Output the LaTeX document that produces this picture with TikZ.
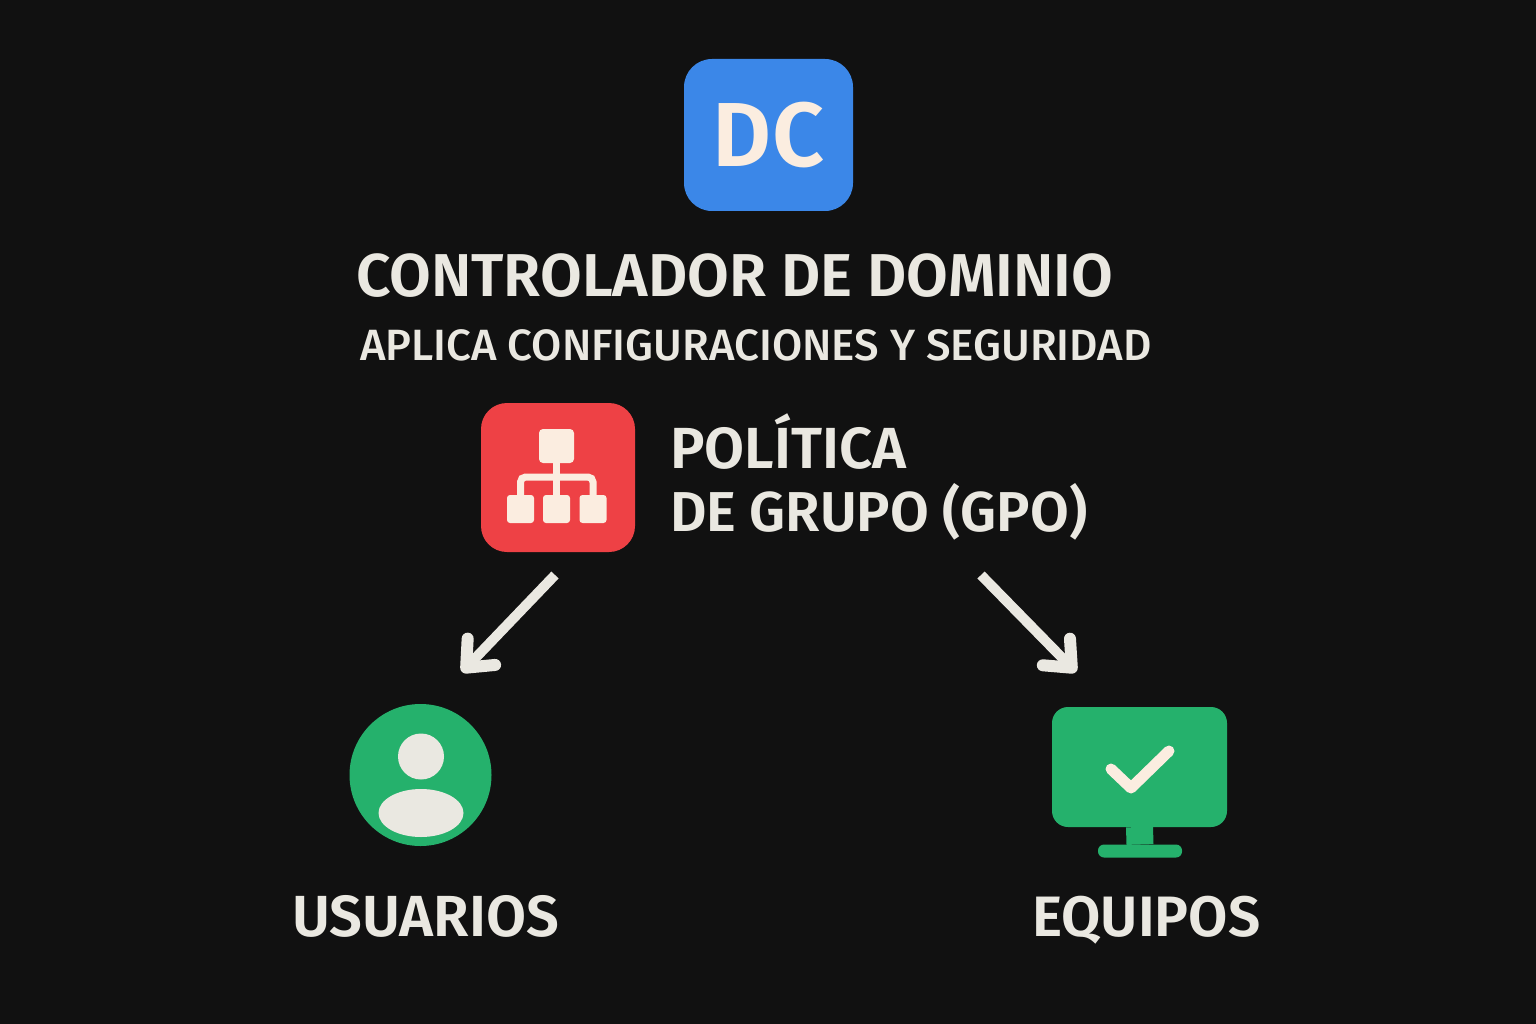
\documentclass[tikz,border=0pt]{standalone}
\usepackage{fontspec}
\setmainfont{Fira Sans}[BoldFont={Fira Sans SemiBold}]
\newfontfamily\subfont{Fira Sans Medium}
\usepackage{tikz}
\usetikzlibrary{arrows.meta,shapes.geometric}
\definecolor{bgdark}{HTML}{111111}
\definecolor{dcblue}{HTML}{3B87E8}
\definecolor{gpored}{HTML}{EE4145}
\definecolor{okgreen}{HTML}{25B16C}
\definecolor{cream}{HTML}{FBEDE0}
\definecolor{paper}{HTML}{EAE8E1}
\tikzset{
  iconbox/.style={rectangle,inner sep=0pt,outer sep=0pt},
  leafbox/.style={iconbox,fill=cream,minimum width=27pt,minimum height=28pt,rounded corners=3pt},
  title/.style={inner sep=0pt,outer sep=0pt,text=paper,font=\fontsize{60.5}{60.5}\selectfont\bfseries},
  titlesm/.style={title,font=\fontsize{58}{58}\selectfont\bfseries},
  flow/.style={paper,line width=10pt,-{Straight Barb[length=22pt,width=38pt,line width=12pt,round]}},
  link/.style={cream,line width=7pt}
}
\begin{document}
\begin{tikzpicture}[x=1pt,y=-1pt]
\useasboundingbox (0,0) rectangle (1536,1024);
\fill[bgdark] (0,0) rectangle (1536,1024);
\node[iconbox,fill=dcblue,minimum width=169pt,minimum height=152pt,rounded corners=28pt,text=cream,font=\fontsize{91}{91}\selectfont\bfseries] (dc) at (768.5,135){DC};
\node[title,anchor=base west] (dctitle) at (356,296){CONTROLADOR DE DOMINIO};
\node[inner sep=0pt,outer sep=0pt,anchor=base west,text=paper,font=\fontsize{43.8}{43.8}\subfont] (dcsub) at (360,360){APLICA CONFIGURACIONES Y SEGURIDAD};
\node[iconbox,fill=gpored,minimum width=154pt,minimum height=149pt,rounded corners=26pt] (gpo) at (558,477.5){};
\node[iconbox,fill=cream,minimum width=35pt,minimum height=34pt,rounded corners=4pt] (gpotop) at (556.5,446){};
\node[leafbox] (leafa) at (520.5,509){};
\node[leafbox] (leafb) at (556.5,509){};
\node[leafbox] (leafc) at (593,509){};
\coordinate (hub) at (556.5,477);
\draw[link] (gpotop.south) -- (leafb.north);
\draw[link,rounded corners=5pt] (leafa.north) |- (hub) -| (leafc.north);
\node[titlesm,anchor=base west] (gpoline) at (670,468){POLÍTICA};
\node[title,font=\fontsize{56.2}{56.2}\selectfont\bfseries,anchor=base west] (gpolinb) at (670,531){DE GRUPO (GPO)};
\coordinate (lefttail) at (555,575);
\coordinate (lefttip) at (462,672);
\coordinate (righttail) at (981,575);
\coordinate (righttip) at (1076,672);
\draw[flow] (lefttail) -- (lefttip);
\draw[flow] (righttail) -- (righttip);
\node[circle,inner sep=0pt,outer sep=0pt,fill=okgreen,minimum size=142pt] (user) at (420.5,775){};
\node[circle,inner sep=0pt,outer sep=0pt,fill=paper,minimum size=46pt] (userhead) at (421,756.5){};
\node[ellipse,inner sep=0pt,outer sep=0pt,fill=paper,minimum width=85pt,minimum height=48pt] (userbody) at (421,813){};
\node[titlesm,anchor=base west] (usuarios) at (292,936){USUARIOS};
\node[iconbox,fill=okgreen,minimum width=175pt,minimum height=120pt,rounded corners=16pt] (screen) at (1139.5,767){};
\node[iconbox,fill=okgreen,minimum width=84pt,minimum height=13pt,rounded corners=6pt] (foot) at (1140,851){};
\draw[okgreen,line width=27pt] (screen.south) -- (foot.north);
\draw[cream,line width=11pt,line cap=round,line join=round] (1111,769) -- (1131,788) -- (1169,751);
\node[title,font=\fontsize{57}{57}\selectfont\bfseries,anchor=base west] (equipos) at (1032,936){EQUIPOS};
\end{tikzpicture}
\end{document}
